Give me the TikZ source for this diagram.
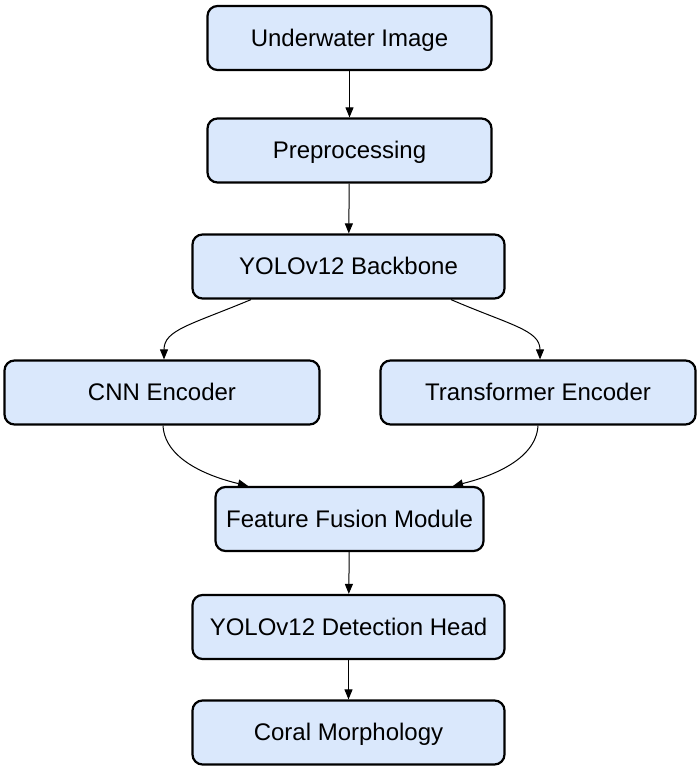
\documentclass[tikz,border=0pt]{standalone}
\usepackage{fontspec}
\setmainfont{Liberation Sans}
\usetikzlibrary{arrows.meta}
\definecolor{boxfill}{HTML}{DAE8FC}
\begin{document}
\begin{tikzpicture}[x=1pt,y=-1pt,
  stepbox/.style={draw=black,line width=2.2pt,fill=boxfill,rounded corners=10pt,
    minimum height=64pt,inner sep=0pt,text depth=1pt,font=\fontsize{24}{28}\selectfont},
  conn/.style={line width=1pt,-{Triangle[length=10pt,width=8pt]}}]
\useasboundingbox (0,0) rectangle (700,769);
\node[stepbox,minimum width=284pt] (img) at (349.5,38) {Underwater Image};
\node[stepbox,minimum width=284pt] (pre) at (349.5,150.5) {Preprocessing};
\node[stepbox,minimum width=312pt] (bb) at (348.5,266.5) {YOLOv12 Backbone};
\node[stepbox,minimum width=315pt] (cnn) at (162,392.5) {CNN Encoder};
\node[stepbox,minimum width=315pt] (tr) at (538,392.5) {Transformer Encoder};
\node[stepbox,minimum width=268pt] (ff) at (349.5,519) {Feature Fusion Module};
\node[stepbox,minimum width=312pt] (det) at (348.5,627) {YOLOv12 Detection Head};
\node[stepbox,minimum width=312pt] (cor) at (348.5,732.5) {Coral Morphology};
\draw[conn] (img) -- (pre);
\draw[conn] (pre) -- (bb);
\draw[conn] (bb.south -| 251,0) .. controls (190,325) and (164,330) .. (cnn.north -| 164,0);
\draw[conn] (bb.south -| 451,0) .. controls (510,325) and (540,330) .. (tr.north -| 540,0);
\draw[conn] (cnn.south -| 163,0) .. controls (165,462) and (215,478) .. (ff.north -| 248,0);
\draw[conn] (tr.south -| 538,0) .. controls (536,462) and (485,478) .. (ff.north -| 453,0);
\draw[conn] (ff) -- (det);
\draw[conn] (det) -- (cor);
\end{tikzpicture}
\end{document}
